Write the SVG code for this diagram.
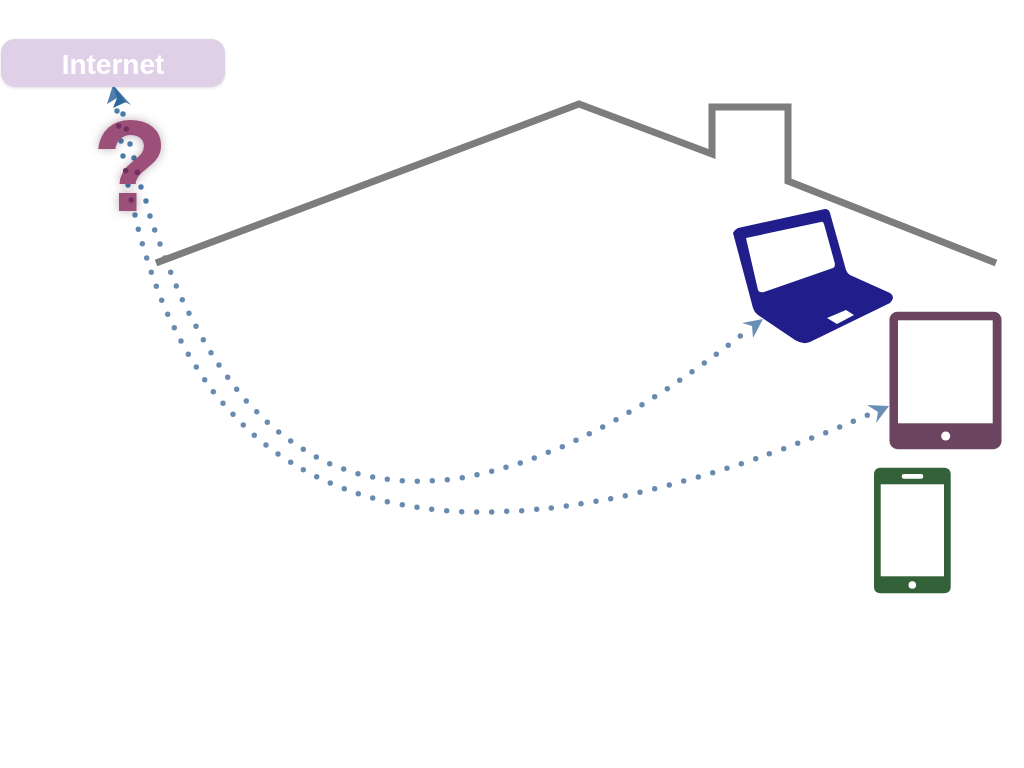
<svg xmlns="http://www.w3.org/2000/svg" width="1024" height="768" viewBox="0 0 1024 768">
<style>
.dots{fill:none;stroke:url(#dotcol);stroke-width:5.400;stroke-linecap:round}
.head{fill:#6a8fb5}
.cut{fill:#fff}
</style>
<defs>
<linearGradient id="dotcol" gradientUnits="userSpaceOnUse" x1="0" y1="205" x2="0" y2="240"><stop offset="0" stop-color="#4c7eab"/><stop offset="1" stop-color="#6a8bb0"/></linearGradient>
<filter id="qblur" x="-50%" y="-50%" width="200%" height="200%"><feGaussianBlur stdDeviation="5"/></filter>
<filter id="qsoft" x="-10%" y="-10%" width="120%" height="120%"><feGaussianBlur stdDeviation=".7"/></filter>
<filter id="soft" x="-5%" y="-15%" width="110%" height="130%"><feDropShadow dx="0" dy="1" stdDeviation="1.500" flood-color="#000" flood-opacity=".12"/></filter>
</defs>
<rect width="1024" height="768" fill="#fff"/>
<g id="connectors">
<path id="to-laptop" class="dots" d="M123 114h0M126 129h0M130 144h0M134 158h0M137 172h0M141 187h0M146 201h0M150 216h0M154.700 230h0M160 244h0M165 258h0M170.700 272.300h0M176.300 286h0M182.300 299.700h0M189 313.300h0M196 326.300h0M203.300 339.700h0M211 352.700h0M219 365h0M227.700 377.300h0M236.700 389.300h0M246.300 401h0M256.700 411.700h0M267.300 422.300h0M278.700 432h0M290.700 441h0M303.300 449.300h0M316.300 457h0M329.700 463.700h0M343.700 469h0M358 473.700h0M372.700 477h0M387.300 479.300h0M402.300 480.700h0M417.300 481.300h0M432.300 480.700h0M447.300 479.700h0M462.300 477.700h0M477 474.700h0M491.700 471.300h0M506 467.300h0M520.300 463h0M534.300 458h0M548.300 452.300h0M562.300 446.700h0M576 440.300h0M589.300 433.700h0M602.700 427h0M616 419.700h0M629 412.300h0M642 404.700h0M654.700 396.700h0M667.300 388.700h0M679.700 380.300h0M692 371.700h0M704.300 363h0M716.300 354.300h0M728.300 345.300h0M740.300 336h0"/>
<path id="to-tablet" class="dots" d="M117 111h0M119 126h0M121 141h0M123 156h0M126 171h0M128 185h0M131 200h0M135 215h0M138.300 229.300h0M142.300 243.700h0M146.700 258h0M151.300 272.300h0M156.300 286.300h0M161.700 300.300h0M167.700 314.300h0M174.300 327.700h0M181 341h0M188.300 354.300h0M196.300 367h0M204.700 379.700h0M213.300 391.700h0M223 403.300h0M233 414.300h0M243.300 425h0M254.300 435.300h0M266 445h0M278 454h0M290.700 462.300h0M303.300 469.700h0M316.700 476.700h0M330.300 483h0M344.300 488.700h0M358.300 493.700h0M372.700 498h0M387.300 501.700h0M402.300 504.700h0M417 507.300h0M431.700 509.300h0M446.700 510.700h0M461.700 511.700h0M476.700 512h0M491.700 512h0M506.700 511.300h0M521.700 510.700h0M536.700 509.300h0M551.300 508h0M566.300 506h0M581 503.700h0M596 501.300h0M610.700 498.700h0M625.300 495.700h0M640 492.300h0M654.700 488.700h0M669.300 485h0M683.700 481h0M698.300 477h0M712.700 472.700h0M727 468.300h0M741.300 463.700h0M755.700 458.700h0M769.300 453.700h0M783.700 448.700h0M797.700 443.300h0M811.700 438h0M825.700 432.700h0M839.700 427h0M853.300 421.300h0M867.300 415.300h0"/>
<polygon class="head" points="763,319 742,323 752,326 753,338"/>
<polygon class="head" points="889,406 867,405 878,412 876,423"/>
<polygon points="113,85 131,105 117,98 107,104" fill="#4f80ad"/>
<polygon points="113,85 126,102 113,108 117,98" fill="#2f689c"/>
</g>
<g id="house"><polyline points="156,263 579,104 712,154 712,107 788,107 788,181 996,263" fill="none" stroke="#7d7d7d" stroke-width="7"/></g>
<g id="internet">
<rect x="1" y="39" width="224" height="48" rx="14" fill="#dfd0e7" filter="url(#soft)"/>
<text x="113" y="74" text-anchor="middle" font-family="'Liberation Sans',Arial,sans-serif" font-weight="700" font-size="28" fill="#fff">Internet</text>
</g>
<g id="question" font-family="'Liberation Mono','Courier New',monospace" font-weight="700" font-size="136" text-anchor="middle">
<text transform="translate(131 211) scale(.91 1)" fill="#7a5a70" opacity=".5" filter="url(#qblur)" style="mix-blend-mode:multiply">?</text>
<text transform="translate(131 211) scale(.91 1)" fill="#9c5078" filter="url(#qsoft)">?</text>
<path d="M118.700 126h0M126.300 129h0M125.700 170.700h0M137.300 172.300h0M131.300 200h0" fill="none" stroke="#6e2f60" stroke-width="5.400" stroke-linecap="round"/>
</g>
<g id="laptop">
<path d="M733 233Q734 230 738 228L825 209Q829 209 830 213L846 270Q847 273 850 275L890 293Q896 297 890 303L810 342Q803 345 795 340L758 315Q754 312 753 308Z" fill="#211e8c"/>
<path class="cut" d="M746 238L821 222Q823 221 824 224L835 264Q835 267 833 268L764 292Q759 293 758 290Z"/>
<polygon class="cut" points="827,318 846,310 854,315 837,324"/>
</g>
<g id="tablet">
<rect x="889.500" y="311.700" width="112" height="137.500" rx="8" fill="#6b4560"/>
<rect class="cut" x="898" y="320.300" width="94.700" height="103"/>
<circle class="cut" cx="945.700" cy="436" r="4.500"/>
</g>
<g id="phone">
<rect x="874" y="467.700" width="76.700" height="125.600" rx="6" fill="#336138"/>
<rect class="cut" x="880.700" y="484.300" width="63.300" height="92"/>
<rect class="cut" x="901.700" y="474" width="21.600" height="4.700" rx="2.300"/>
<circle class="cut" cx="912.300" cy="585" r="3.800"/>
</g>
</svg>
